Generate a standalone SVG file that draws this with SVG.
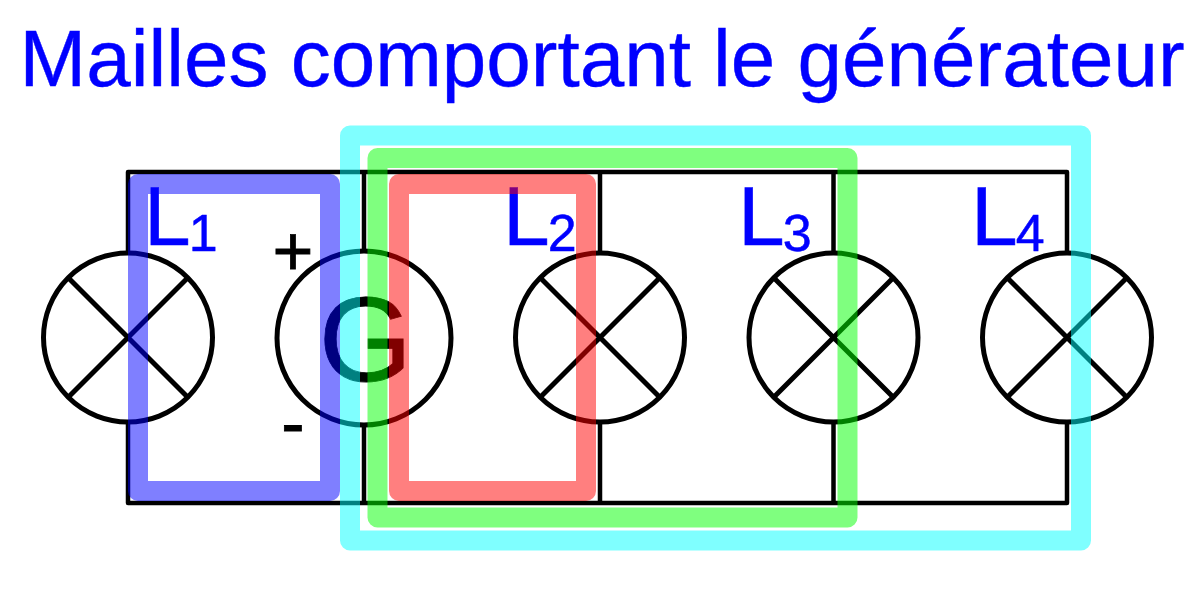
<svg xmlns="http://www.w3.org/2000/svg" width="1200" height="600" viewBox="0 0 1200 600">
<style>
text{font-family:"Liberation Sans",Arial,sans-serif}
.w{fill:none;stroke:#000;stroke-width:4.5;stroke-linejoin:round}
.c{fill:#fff;stroke:#000;stroke-width:5}
.x{stroke:#000;stroke-width:5;fill:none}
.b{stroke:#000;stroke-width:.8}
.l{fill:#00f;stroke:#00f;stroke-width:.5;font-size:84px}
.s{font-size:52px}
.m{fill:none;stroke-width:20;stroke-linejoin:round;stroke-opacity:.5}
</style>
<rect width="1200" height="600" fill="#fff"/>
<text id="title" x="19.500" y="85.500" font-size="80" fill="#00f" stroke="#00f" stroke-width=".4">Mailles comportant le générateur</text>
<g id="connectors">
<path class="w" d="M128 337V172H1067V337M364 172V337M600 172V337M833.500 172V337M128 337V503H1067V337M364 337V503M600 337V503M833.500 337V503"/>
</g>
<g id="lamp1"><circle class="c" cx="128" cy="337.500" r="84.500"/><path class="x" d="M68.500 278L187.500 397M187.500 278L68.500 397"/></g>
<g id="generator"><circle class="c" cx="364" cy="338" r="87"/><text class="b" x="365.500" y="381" font-size="120" text-anchor="middle">G</text></g>
<g id="lamp2"><circle class="c" cx="600" cy="337.500" r="84.500"/><path class="x" d="M540.500 278L659.500 397M659.500 278L540.500 397"/></g>
<g id="lamp3"><circle class="c" cx="833.500" cy="337.500" r="84.500"/><path class="x" d="M774 278L893 397M893 278L774 397"/></g>
<g id="lamp4"><circle class="c" cx="1067" cy="337.500" r="84.500"/><path class="x" d="M1007.500 278L1126.500 397M1126.500 278L1007.500 397"/></g>
<g id="labels">
<text class="l" x="144" y="245">L<tspan class="s" dx="-2" dy="6">1</tspan></text>
<text class="l" x="503" y="245">L<tspan class="s" dx="-2" dy="6">2</tspan></text>
<text class="l" x="738" y="245">L<tspan class="s" dx="-2" dy="6">3</tspan></text>
<text class="l" x="971" y="245">L<tspan class="s" dx="-2" dy="6">4</tspan></text>
<text class="b" x="293" y="275" font-size="70" text-anchor="middle">+</text>
<text class="b" x="293" y="447" font-size="70" text-anchor="middle">-</text>
</g>
<g id="meshes">
<rect id="mesh-blue" class="m" stroke="#00f" x="138" y="184" width="192" height="307"/>
<rect id="mesh-cyan" class="m" stroke="#0ff" x="350" y="135.500" width="731" height="405"/>
<rect id="mesh-green" class="m" stroke="#0f0" x="377.500" y="158" width="470" height="359.500"/>
<rect id="mesh-red" class="m" stroke="#f00" x="399" y="184" width="187" height="307"/>
</g>
</svg>
